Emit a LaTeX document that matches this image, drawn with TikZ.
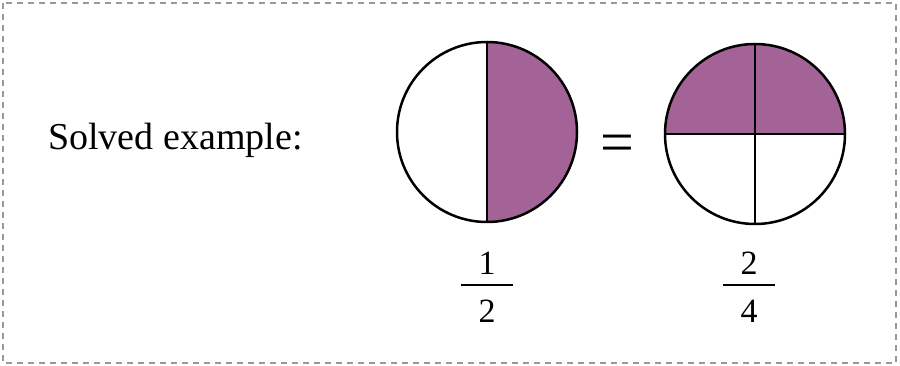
\documentclass[tikz,border=0pt]{standalone}
\usepackage{fontspec}
\setmainfont{Liberation Serif}
\usetikzlibrary{positioning}
\definecolor{fracpurple}{RGB}{163,99,150}

\begin{document}
\begin{tikzpicture}[x=1pt,y=-1pt,
  title/.style={inner sep=0pt,font=\fontsize{38}{44}\selectfont},
  digit/.style={inner sep=0pt,font=\fontsize{34}{40}\selectfont},
  disc/.style={circle,draw=black,line width=2.5pt,minimum size=180pt,inner sep=0pt,outer sep=0pt},
  cut/.style={draw=black,line width=2pt},
  bar/.style={draw=black,line width=2pt}]
  \def\r{90}
  \useasboundingbox (0,0) rectangle (900,366);
  \draw[black!40,line width=1.5pt,dash pattern=on 6pt off 5pt] (3,3) rectangle (896,363);
  \node[title,anchor=base west] (solved) at (48,150) {Solved example:};
  % one half
  \coordinate (c1) at (487,132);
  \begin{scope}
    \clip (c1) circle[radius=\r];
    \fill[fracpurple] (c1) ++(0,-\r) rectangle ++(\r,2*\r);
  \end{scope}
  \node[disc] (half) at (c1) {};
  \draw[cut] (half.north) -- (half.south);
  \node[digit,anchor=base] (num1) at (487,275) {1};
  \node[digit,anchor=base] (den1) at (487,322) {2};
  \draw[bar] (461,285) -- (513,285);
  % equals
  \node[inner sep=0pt,font=\fontsize{60}{60}\selectfont] (eq) at (617,149) {=};
  % two quarters
  \coordinate (c2) at (755,134);
  \begin{scope}
    \clip (c2) circle[radius=\r];
    \fill[fracpurple] (c2) ++(-\r,-\r) rectangle ++(2*\r,\r);
  \end{scope}
  \node[disc] (quarter) at (c2) {};
  \draw[cut] (quarter.west) -- (quarter.east);
  \draw[cut] (quarter.north) -- (quarter.south);
  \node[digit,anchor=base] (num2) at (749,275) {2};
  \node[digit,anchor=base] (den2) at (749,322) {4};
  \draw[bar] (723,285) -- (775,285);
\end{tikzpicture}
\end{document}
